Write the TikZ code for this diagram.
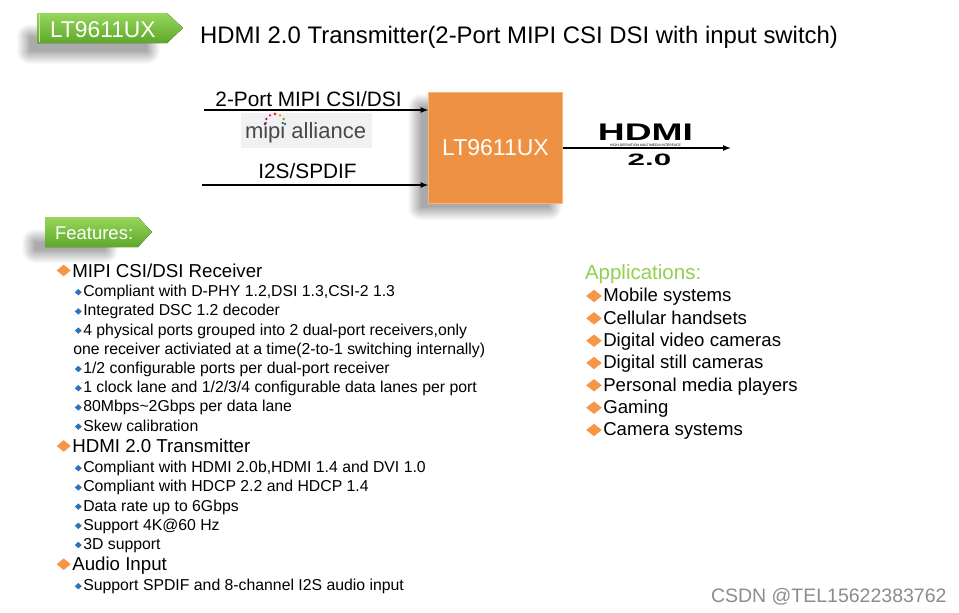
\documentclass[tikz,border=0pt]{standalone}
\usepackage{fontspec}
\setmainfont{Liberation Sans}
\usetikzlibrary{arrows.meta}
\definecolor{tagtop}{HTML}{98D65C}
\definecolor{tagbot}{HTML}{5DA829}
\definecolor{tagedge}{HTML}{C4EC9A}
\definecolor{chipfill}{HTML}{EF9143}
\definecolor{chipedge}{HTML}{F7B47C}
\definecolor{bulor}{HTML}{F79646}
\definecolor{bulbl}{HTML}{2E72BE}
\definecolor{appgreen}{HTML}{92D050}
\definecolor{mipibg}{HTML}{F1F1F1}
\definecolor{mipitext}{HTML}{474747}
\newcommand\myfs[1]{\fontsize{#1}{#1}\selectfont}
\begin{document}
\begin{tikzpicture}[x=1pt,y=-1pt,
  every node/.style={inner sep=0pt,outer sep=0pt},
  l1/.style={anchor=base west,font=\myfs{18.7}},
  l2/.style={anchor=base west,font=\myfs{15.8}},
  app/.style={anchor=base west,font=\myfs{18.6}},
  lbl/.style={anchor=base,font=\myfs{20.8}},
  conn/.style={line width=1.1pt,-{Latex[length=8pt,width=6pt]}},
  tag/.style={top color=tagtop,bottom color=tagbot},
  tagtext/.style={anchor=base west,text=white},
  chip/.style={fill=chipfill,draw=chipedge,line width=1.4pt,minimum width=134pt,minimum height=111pt,
    text=white,font=\myfs{23}},
  bigbul/.pic={\fill[bulor] (-7,0)--(0,-5.8)--(7,0)--(0,5.8)--cycle;},
  appbul/.pic={\fill[bulor] (-7.8,0)--(0,-6.2)--(7.8,0)--(0,6.2)--cycle;},
  smallbul/.pic={\fill[bulbl] (-3.5,0)--(0,-3.2)--(3.5,0)--(0,3.2)--cycle;}
]
\useasboundingbox[fill=white] (0,0) rectangle (959,613);

% soft shadows (opaque layers, light to dark)
\foreach \k in {13,...,0}{
  \pgfmathsetmacro\shd{2+2.4*(13-\k)}
  \fill[black!\shd,rounded corners=\k pt] (30-\k,37-\k) rectangle (147+\k,51+\k);
  \fill[black!\shd,rounded corners=\k pt] (35-\k,242-\k) rectangle (105+\k,250+\k);
  \fill[black!\shd,rounded corners=\k pt] (421-\k,107-\k) rectangle (549+\k,207+\k);
}

% header tag and title
\fill[tag] (37,13) -- (167,13) -- (183,28) -- (167,43) -- (37,43) -- cycle;
\draw[tagedge,line width=1.2pt] (39.5,14) -- (39.5,42);
\node[tagtext,font=\myfs{22.8}] (tagname) at (50,37) {LT9611UX};
\node[anchor=base west,font=\myfs{23.9}] (title) at (200,43) {HDMI 2.0 Transmitter(2-Port MIPI CSI DSI with input switch)};

% block diagram
\node[chip] (box) at (495.5,148) {LT9611UX};
\coordinate (in1) at (204,110);
\coordinate (in2) at (202,185);
\coordinate (out) at (731,148);
\node[lbl] (lab1) at (308.5,106.5) {2-Port MIPI CSI/DSI};
\node[lbl] (lab2) at (307.5,178) {I2S/SPDIF};
\node[fill=mipibg,minimum width=131pt,minimum height=35pt] (mipi) at (306.5,130.5) {};
\node[anchor=base west,font=\myfs{22},text=mipitext] (mipitxt) at (245,138) {mipi alliance};
\foreach \a/\c in {180/violet,150/purple,120/magenta,90/red,60/orange,30/olive,0/teal}
  \fill[\c] ({275+10*cos(\a)},{124-10*sin(\a)}) circle (1.3);
\draw[conn] (in1) -- (in1 -| box.west);
\draw[conn] (in2) -- (in2 -| box.west);

\node[anchor=base,font=\bfseries\myfs{24}] (hdmi) at (645.5,140) {\scalebox{1.55}[1]{HDMI}};
\node[font=\myfs{3.4}] (hdmisub) at (645.5,145.5) {HIGH-DEFINITION MULTIMEDIA INTERFACE};
\node[anchor=base,font=\bfseries\myfs{16.5}] (hdmiver) at (649.5,165.5) {\scalebox{1.9}[1]{2.0}};
\draw[conn] (box.east) -- (out);

% features tag
\fill[tag] (45,217) -- (138,217) -- (152,232) -- (138,247) -- (45,247) -- cycle;
\node[tagtext,font=\myfs{18.5}] (feat) at (55,239) {Features:};

% features list
\pic at (63.7,270.5) {bigbul};
\node[l1] (f1) at (72.3,277.5) {MIPI CSI/DSI Receiver};
\pic at (78.3,292.2) {smallbul};
\node[l2] (f1a) at (83.3,296.7) {Compliant with D-PHY 1.2,DSI 1.3,CSI-2 1.3};
\pic at (78.3,311.4) {smallbul};
\node[l2] (f1b) at (83.3,315.9) {Integrated DSC 1.2 decoder};
\pic at (78.3,330.6) {smallbul};
\node[l2] (f1c) at (83.3,335.1) {4 physical ports grouped into 2 dual-port receivers,only};
\node[l2] (f1c2) at (73.3,354.3) {one receiver activiated at a time(2-to-1 switching internally)};
\pic at (78.3,369.0) {smallbul};
\node[l2] (f1d) at (83.3,373.5) {1/2 configurable ports per dual-port receiver};
\pic at (78.3,388.2) {smallbul};
\node[l2] (f1e) at (83.3,392.7) {1 clock lane and 1/2/3/4 configurable data lanes per port};
\pic at (78.3,407.4) {smallbul};
\node[l2] (f1f) at (83.3,411.9) {80Mbps\textasciitilde2Gbps per data lane};
\pic at (78.3,426.6) {smallbul};
\node[l2] (f1g) at (83.3,431.1) {Skew calibration};

\pic at (63.7,446) {bigbul};
\node[l1] (f2) at (72.3,452.7) {HDMI 2.0 Transmitter};
\pic at (78.3,468.2) {smallbul};
\node[l2] (f2a) at (83.3,472.7) {Compliant with HDMI 2.0b,HDMI 1.4 and DVI 1.0};
\pic at (78.3,487.4) {smallbul};
\node[l2] (f2b) at (83.3,491.9) {Compliant with HDCP 2.2 and HDCP 1.4};
\pic at (78.3,506.6) {smallbul};
\node[l2] (f2c) at (83.3,511.1) {Data rate up to 6Gbps};
\pic at (78.3,525.8) {smallbul};
\node[l2] (f2d) at (83.3,530.3) {Support 4K@60 Hz};
\pic at (78.3,545.0) {smallbul};
\node[l2] (f2e) at (83.3,549.5) {3D support};

\pic at (63.7,564.2) {bigbul};
\node[l1] (f3) at (72.3,570.7) {Audio Input};
\pic at (78.3,586.2) {smallbul};
\node[l2] (f3a) at (83.3,590.7) {Support SPDIF and 8-channel I2S audio input};

% applications
\node[anchor=base west,font=\myfs{20.5},text=appgreen] (apps) at (585,279) {Applications:};
\pic at (594,296.0) {appbul};
\node[app] (a1) at (603.3,301.7) {Mobile systems};
\pic at (594,318.3) {appbul};
\node[app] (a2) at (603.3,324.0) {Cellular handsets};
\pic at (594,340.7) {appbul};
\node[app] (a3) at (603.3,346.4) {Digital video cameras};
\pic at (594,363.0) {appbul};
\node[app] (a4) at (603.3,368.7) {Digital still cameras};
\pic at (594,385.3) {appbul};
\node[app] (a5) at (603.3,391.0) {Personal media players};
\pic at (594,407.7) {appbul};
\node[app] (a6) at (603.3,413.4) {Gaming};
\pic at (594,430.0) {appbul};
\node[app] (a7) at (603.3,435.7) {Camera systems};

% watermark
\node[anchor=base west,font=\myfs{19.5},text=black!45] (wm) at (711,602.3) {CSDN @TEL15622383762};
\end{tikzpicture}
\end{document}
